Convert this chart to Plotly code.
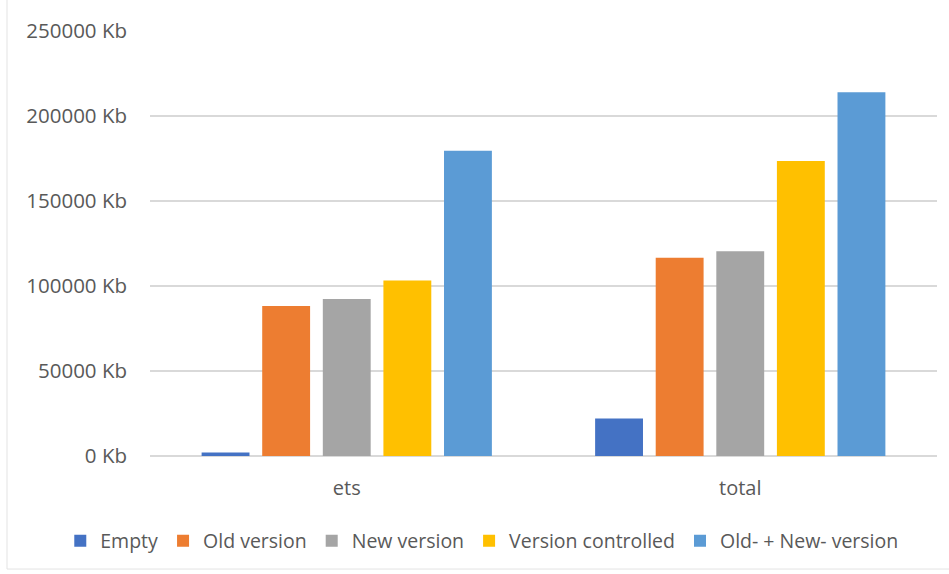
import plotly.graph_objects as go

categories = ["ets", "total"]
series_names = ["Empty", "Old version", "New version", "Version controlled", "Old- + New- version"]
empty = [2000, 22000]
old_version = [88300, 116600]
new_version = [92300, 120500]
version_controlled = [103300, 173600]
old_new_version = [179600, 214000]
colors = ["#4472C4", "#ED7D31", "#A5A5A5", "#FFC000", "#5B9BD5"]
y_ticks = [0, 50000, 100000, 150000, 200000, 250000]
y_tick_labels = ["0 Kb", "50000 Kb", "100000 Kb", "150000 Kb", "200000 Kb", "250000 Kb"]

values = [empty, old_version, new_version, version_controlled, old_new_version]

fig = go.Figure()
for name, vals, col in zip(series_names, values, colors):
    fig.add_trace(go.Bar(x=categories, y=vals, name=name, marker=dict(color=col, line=dict(width=0))))

font_family = "Open Sans, Noto Sans, sans-serif"
fig.update_layout(
    width=949, height=574,
    margin=dict(l=150, r=12, t=31, b=118, autoexpand=False),
    paper_bgcolor="white", plot_bgcolor="white",
    barmode="group", bargap=0.23, bargroupgap=0.21,
    font=dict(family=font_family, size=19, color="#595959"),
    showlegend=True,
    legend=dict(orientation="h", xref="paper", x=-0.114, xanchor="left",
                yref="paper", y=-0.2, yanchor="middle",
                bgcolor="rgba(0,0,0,0)",
                font=dict(size=19.5, color="#595959"), traceorder="normal",
                itemwidth=30, tracegroupgap=0),
    xaxis=dict(showgrid=False, showline=False, ticks="", ticklabelstandoff=18,
               automargin=False, tickfont=dict(size=20, color="#595959")),
    yaxis=dict(range=[0, 250000], tickmode="array", tickvals=y_ticks, ticktext=y_tick_labels,
               showgrid=True, gridcolor="#D9D9D9", gridwidth=1.5,
               zeroline=True, zerolinecolor="#D9D9D9", zerolinewidth=1.5,
               showline=False, ticks="", ticklabelstandoff=22, automargin=False,
               tickfont=dict(size=20.5, color="#595959")),
    shapes=[
        dict(type="line", xref="paper", yref="paper", x0=-0.1817, x1=-0.1817, y0=-0.266, y1=1.1,
             line=dict(color="#E3E3E3", width=1)),
        dict(type="line", xref="paper", yref="paper", x0=-0.1817, x1=1.1, y0=-0.266, y1=-0.266,
             line=dict(color="#E3E3E3", width=1)),
    ],
)

fig.write_html("out.html", config={"displayModeBar": False},
               post_script="document.body.style.margin='0';document.body.style.overflow='hidden';")
